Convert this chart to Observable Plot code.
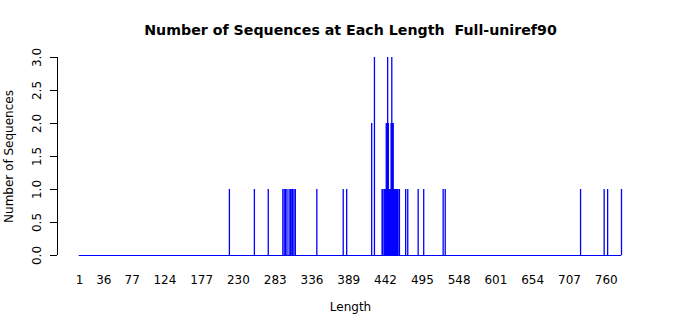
<!DOCTYPE html>
<html>
<head>
<meta charset="utf-8">
<script src="https://cdn.jsdelivr.net/npm/d3@7"></script>
<script src="https://cdn.jsdelivr.net/npm/@observablehq/plot@0.6"></script>
<style>
  html, body { margin: 0; padding: 0; background: #fff; }
  svg { display: block; }
</style>
</head>
<body>
<div id="chart"></div>
<script>
const title = "Number of Sequences at Each Length  Full-uniref90";
const xLabel = "Length";
const yLabel = "Number of Sequences";
const minLength = 1;
const maxLength = 782;
const lengths = [217, 253, 273, 294, 296, 298, 300, 303, 305, 306, 308, 310, 312, 343, 381, 386,
  422, 426, 437, 438, 440, 441, 442, 443, 444, 445, 446, 447, 448, 449, 450, 451, 452, 453, 454,
  455, 456, 457, 458, 459, 460, 462, 471, 474, 489, 497, 525, 528, 723, 757, 762, 782];
const counts = [1, 1, 1, 1, 1, 1, 1, 1, 1, 1, 1, 1, 1, 1, 1, 1,
  2, 3, 1, 1, 1, 1, 1, 2, 2, 3, 2, 1, 1, 1, 2, 3, 2, 2, 1,
  1, 1, 1, 1, 1, 1, 1, 1, 1, 1, 1, 1, 1, 1, 1, 1, 1];
const xTickLabels = [1, 36, 77, 124, 177, 230, 283, 336, 389, 442, 495, 548, 601, 654, 707, 760];
const yTicks = [0, 0.5, 1, 1.5, 2, 2.5, 3];

const data = lengths.map((L, i) => ({length: L, count: counts[i]}));

// barplot geometry: one slot per length, bar width 1 with space 0.2, axis range padded by 4%
const n = maxLength - minLength + 1;
const rLo = 0.2, rHi = 1.2 * n;
const pad = 0.04 * (rHi - rLo);
const toLen = r => (r - 0.7) / 1.2 + minLength;
const xDomain = [toLen(rLo - pad), toLen(rHi + pad)];
const halfBar = 0.5 / 1.2;
const yMax = d3.max(yTicks);

const chart = Plot.plot({
  width: 700,
  height: 315,
  marginLeft: 57,
  marginRight: 57,
  marginTop: 57,
  marginBottom: 60,
  style: {fontFamily: "DejaVu Sans", fontSize: "12px", color: "#000", background: "#fff"},
  x: {domain: xDomain, label: null},
  y: {domain: [0, yMax], label: null},
  marks: [
    Plot.axisX(xTickLabels, {tickSize: 0, tickPadding: 20, tickFormat: d => String(d), fontSize: 12}),
    Plot.axisY(yTicks, {tickSize: 7, tickFormat: () => ""}),
    Plot.text(yTicks, {y: d => d, text: d => d.toFixed(1), frameAnchor: "left", dx: -20, rotate: -90,
      textAnchor: "middle", lineAnchor: "middle", fontSize: 12}),
    Plot.ruleX([xDomain[0]], {x: d => d, y1: () => 0, y2: () => yMax, stroke: "#000"}),
    Plot.ruleY([0], {y: d => d, x1: () => minLength - halfBar, x2: () => maxLength + halfBar, stroke: "#0000ff"}),
    Plot.ruleX(data, {x: "length", y1: () => 0, y2: "count", stroke: "#0000ff", strokeWidth: 1.3}),
    Plot.text([title], {frameAnchor: "top", dy: -27, lineAnchor: "middle", textAnchor: "middle",
      fontWeight: "bold", fontSize: 14.2}),
    Plot.text([xLabel], {frameAnchor: "bottom", dy: 52, lineAnchor: "middle", textAnchor: "middle", fontSize: 12}),
    Plot.text([yLabel], {frameAnchor: "left", dx: -48, rotate: -90, textAnchor: "middle", lineAnchor: "middle", fontSize: 12})
  ]
});
document.getElementById("chart").appendChild(chart);
</script>
</body>
</html>
